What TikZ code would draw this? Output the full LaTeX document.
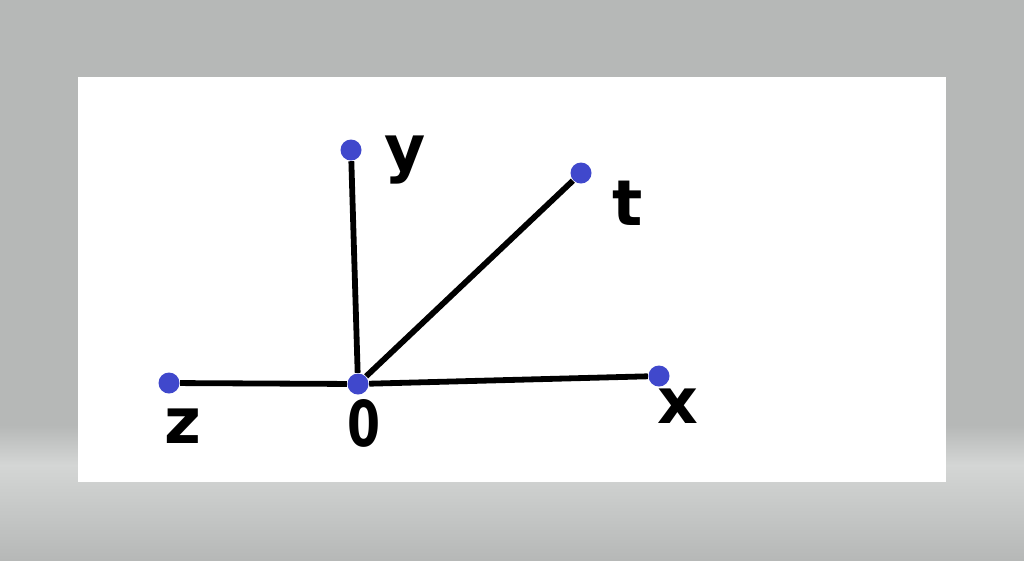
\documentclass[tikz,border=0pt]{standalone}
\usepackage{fontspec}
\setmainfont{DejaVu Sans}
\usepackage{tikz}
\definecolor{bggray}{RGB}{182,184,183}
\definecolor{bglight}{RGB}{212,214,213}
\definecolor{dotblue}{RGB}{64,72,204}
\tikzset{
  dot/.style={circle,fill=dotblue,inner sep=0pt,minimum size=21*0.01cm},
  lbl/.style={font=\fontsize{18}{20}\selectfont\bfseries},
  seg/.style={line width=1.65pt}
}
\begin{document}
\begin{tikzpicture}[x=0.01cm,y=-0.01cm]
    \fill[bggray] (0,0) rectangle (1024,560);
    \shade[top color=bggray,bottom color=bglight] (0,425) rectangle (1024,465);
    \shade[top color=bglight,bottom color=bggray] (0,465) rectangle (1024,560);
    \fill[white] (78,77) rectangle (946,482);
    \useasboundingbox (0,0) rectangle (1024,560);
    \node[dot] (o) at (358,384) {};
    \node[dot] (y) at (351,150) {};
    \node[dot] (t) at (581,173) {};
    \node[dot] (z) at (169,383) {};
    \node[dot] (x) at (659,376) {};
    \draw[seg] (o) -- (y);
    \draw[seg] (o) -- (t);
    \draw[seg] (o) -- (z);
    \draw[seg] (o) -- (x);
    \node[lbl] (ly) at (405,160) {y};
    \node[lbl] (lt) at (628,203) {t};
    \node[lbl] (lz) at (183,426) {z};
    \node[lbl,xscale=0.75] (lo) at (364,423) {0};
    \node[lbl] (lx) at (678,406) {x};
\end{tikzpicture}
\end{document}
